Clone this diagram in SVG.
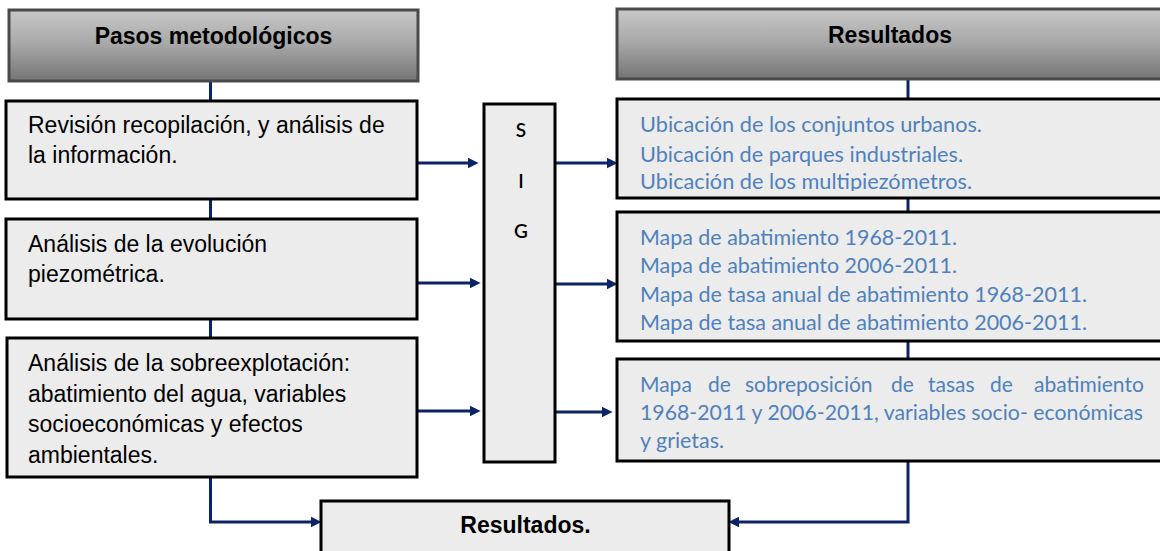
<svg xmlns="http://www.w3.org/2000/svg" width="1160" height="551" viewBox="0 0 1160 551">
<defs>
<linearGradient id="hg" x1="0" y1="0" x2="0" y2="1">
<stop offset="0" stop-color="#c8c8c8"/>
<stop offset="0.5" stop-color="#a6a6a6"/>
<stop offset="1" stop-color="#747474"/>
</linearGradient>
<marker id="ah" viewBox="0 0 10 10" refX="4" refY="5" markerWidth="11" markerHeight="12" markerUnits="userSpaceOnUse" orient="auto">
<path d="M0,0 L10,5 L0,10 z" fill="#0b2466"/>
</marker>
<clipPath id="c1"><rect x="617" y="99" width="560" height="92"/></clipPath>
<clipPath id="c2"><rect x="617" y="212" width="560" height="122"/></clipPath>
</defs>
<style>
.hdr{fill:url(#hg);stroke:#4a4a4a;stroke-width:3}
.box{fill:#ececec;stroke:#000;stroke-width:3}
.lt{font-family:"Liberation Sans",Arial,sans-serif;font-size:23px;fill:#000}
.bt{font-family:"Liberation Sans",Arial,sans-serif;font-size:23px;font-weight:bold;fill:#000}
.rt{font-family:Lato,"Open Sans",sans-serif;font-size:21px;fill:#4f81bd}
.sig{font-family:Lato,"Open Sans",sans-serif;font-size:19px;font-weight:600;fill:#000}
.cn{fill:none;stroke:#0b2466;stroke-width:3}
.ar{fill:none;stroke:#0b2466;stroke-width:3;marker-end:url(#ah)}
</style>
<rect width="1160" height="551" fill="#fff"/>
<g id="connectors">
<line class="cn" x1="210.5" y1="81" x2="210.5" y2="100"/>
<line class="cn" x1="210.5" y1="199" x2="210.5" y2="219"/>
<line class="cn" x1="210.5" y1="319" x2="210.5" y2="338"/>
<polyline class="ar" points="210.5,477 210.5,522 315,522"/>
<line class="cn" x1="908" y1="79" x2="908" y2="99"/>
<line class="cn" x1="908" y1="198" x2="908" y2="212"/>
<line class="cn" x1="908" y1="341" x2="908" y2="359"/>
<polyline class="ar" points="908,461 908,522 735,522"/>
<line class="ar" x1="418" y1="163" x2="472" y2="163"/>
<line class="ar" x1="418" y1="283" x2="474" y2="283"/>
<line class="ar" x1="418" y1="411" x2="474" y2="411"/>
<line class="ar" x1="555" y1="163" x2="611" y2="163"/>
<line class="ar" x1="555" y1="284" x2="611" y2="284"/>
<line class="ar" x1="555" y1="412" x2="606" y2="412"/>
</g>
<g id="hdr-pasos">
<rect class="hdr" x="9" y="10" width="409" height="71"/>
<text class="bt" x="213.5" y="44" text-anchor="middle">Pasos metodológicos</text>
</g>
<g id="hdr-resultados">
<rect class="hdr" x="617" y="9" width="560" height="70"/>
<text class="bt" x="890" y="43" text-anchor="middle">Resultados</text>
</g>
<g id="paso1">
<rect class="box" x="6" y="101" width="411" height="98"/>
<text class="lt" x="28" y="133">Revisión recopilación, y análisis de</text>
<text class="lt" x="28" y="163">la información.</text>
</g>
<g id="paso2">
<rect class="box" x="6" y="219" width="411" height="100"/>
<text class="lt" x="28" y="252">Análisis de la evolución</text>
<text class="lt" x="28" y="282">piezométrica.</text>
</g>
<g id="paso3">
<rect class="box" x="7" y="338" width="410" height="139"/>
<text class="lt" x="28" y="371">Análisis de la sobreexplotación:</text>
<text class="lt" x="28" y="402">abatimiento del agua, variables</text>
<text class="lt" x="28" y="432">socioeconómicas y efectos</text>
<text class="lt" x="28" y="463">ambientales.</text>
</g>
<g id="sig">
<rect class="box" x="484" y="104" width="71" height="358"/>
<text class="sig" x="521" y="137" text-anchor="middle">S</text>
<text class="sig" x="521" y="188" text-anchor="middle">I</text>
<text class="sig" x="521" y="238" text-anchor="middle">G</text>
</g>
<g id="res1">
<rect class="box" x="617" y="99" width="560" height="99"/>
<g clip-path="url(#c1)">
<text class="rt" x="640" y="132" textLength="342" lengthAdjust="spacingAndGlyphs">Ubicación de los conjuntos urbanos.</text>
<text class="rt" x="640" y="162" textLength="323" lengthAdjust="spacingAndGlyphs">Ubicación de parques industriales.</text>
<text class="rt" x="640" y="189" textLength="332" lengthAdjust="spacingAndGlyphs">Ubicación de los multipiezómetros.</text>
</g>
</g>
<g id="res2">
<rect class="box" x="617" y="212" width="560" height="129"/>
<g clip-path="url(#c2)">
<text class="rt" x="640" y="245" textLength="317" lengthAdjust="spacingAndGlyphs">Mapa de abatimiento 1968-2011.</text>
<text class="rt" x="640" y="273" textLength="317" lengthAdjust="spacingAndGlyphs">Mapa de abatimiento 2006-2011.</text>
<text class="rt" x="640" y="302" textLength="447" lengthAdjust="spacingAndGlyphs">Mapa de tasa anual de abatimiento 1968-2011.</text>
<text class="rt" x="640" y="330" textLength="447" lengthAdjust="spacingAndGlyphs">Mapa de tasa anual de abatimiento 2006-2011.</text>
</g>
</g>
<g id="res3">
<rect class="box" x="617" y="359" width="560" height="102"/>
<text class="rt" y="392"><tspan x="640">Mapa</tspan> <tspan x="708">de</tspan> <tspan x="745">sobreposición</tspan> <tspan x="891">de</tspan> <tspan x="928">tasas</tspan> <tspan x="990">de</tspan> <tspan x="1034">abatimiento</tspan></text>
<text class="rt" x="640" y="420" textLength="503" lengthAdjust="spacingAndGlyphs">1968-2011 y 2006-2011, variables socio- económicas</text>
<text class="rt" x="640" y="448" textLength="84" lengthAdjust="spacingAndGlyphs">y grietas.</text>
</g>
<g id="resultados-final">
<rect class="box" x="321" y="501" width="408" height="60"/>
<text class="bt" x="525.5" y="533" text-anchor="middle">Resultados.</text>
</g>
</svg>
